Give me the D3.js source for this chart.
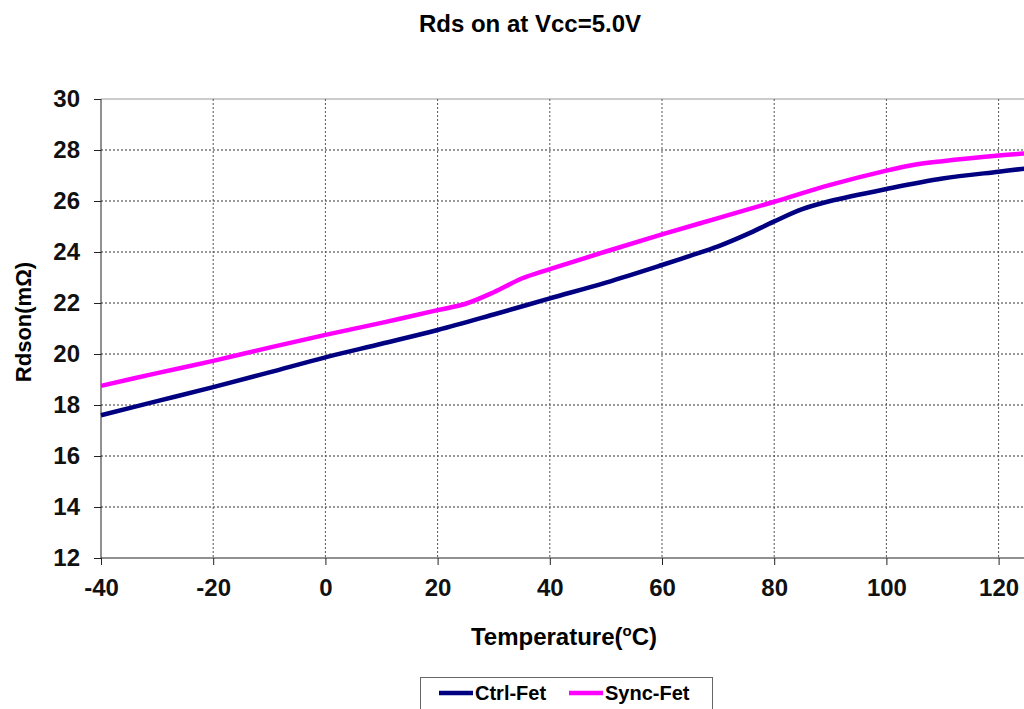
<!DOCTYPE html>
<html>
<head>
<meta charset="utf-8">
<script src="https://cdn.jsdelivr.net/npm/d3@7"></script>
<style>
  html, body { margin: 0; padding: 0; background: #fff; }
  svg { display: block; font-family: "Liberation Sans", Arial, sans-serif; }
</style>
</head>
<body>
<svg id="chart" width="1024" height="709"></svg>
<script>
// ---- data ----
const ctrlTemps  = [-40, -30, -20, -10, 0, 10, 20, 30, 40, 50, 60, 65, 70, 75, 80, 85, 90, 100, 110, 120, 125];
const ctrlValues = [17.6, 18.15, 18.7, 19.28, 19.87, 20.4, 20.94, 21.55, 22.18, 22.8, 23.49, 23.85, 24.22, 24.68, 25.2, 25.68, 26.0, 26.47, 26.88, 27.15, 27.28];
const syncTemps  = [-40, -30, -20, -10, 0, 10, 20, 25, 30, 35, 40, 50, 60, 70, 80, 90, 100, 105, 110, 120, 125];
const syncValues = [18.75, 19.25, 19.73, 20.25, 20.75, 21.22, 21.72, 21.97, 22.42, 22.96, 23.33, 24.02, 24.69, 25.33, 25.97, 26.63, 27.19, 27.42, 27.56, 27.78, 27.87];
const xTicks = [-40, -20, 0, 20, 40, 60, 80, 100, 120];
const yTicks = [12, 14, 16, 18, 20, 22, 24, 26, 28, 30];
const seriesNames = ["Ctrl-Fet", "Sync-Fet"];
const seriesColors = ["#000080", "#FF00FF"];
const titleText = "Rds on at Vcc=5.0V";
const yTitle = "Rdson(mΩ)";

// ---- layout ----
const svg = d3.select("#chart");
const x = d3.scaleLinear().domain([-40, 125]).range([101, 101 + 165 * 5.61]);
const y = d3.scaleLinear().domain([12, 30]).range([558, 99]);
const X0 = 101, X1 = 1030, Y0 = 558, Y1 = 99;

// title
svg.append("text").attr("x", 530).attr("y", 32).attr("text-anchor", "middle")
  .attr("font-size", 24).attr("font-weight", "bold").text(titleText);

// top border
svg.append("line").attr("x1", X0).attr("x2", X1).attr("y1", Y1).attr("y2", Y1)
  .attr("stroke", "#9a9a9a").attr("stroke-width", 1.2);

// grid lines
const grid = svg.append("g");
grid.selectAll(".hg").data(yTicks.filter(d => d !== 12 && d !== 30)).join("line")
  .attr("x1", X0).attr("x2", X1).attr("y1", d => y(d)).attr("y2", d => y(d))
  .attr("stroke", "#333").attr("stroke-width", 1).attr("stroke-dasharray", "2,2");
grid.selectAll(".vg").data(xTicks.filter(d => d !== -40)).join("line")
  .attr("x1", d => x(d)).attr("x2", d => x(d)).attr("y1", Y1).attr("y2", Y0)
  .attr("stroke", "#555").attr("stroke-width", 1).attr("stroke-dasharray", "2,2");

// axes
const fmt = d => String(d);
const yAxis = d3.axisLeft(y).tickValues(yTicks).tickSize(7).tickPadding(14).tickFormat(fmt);
const gy = svg.append("g").attr("transform", `translate(${X0},0)`).call(yAxis);
gy.select(".domain").attr("stroke", "#222").attr("d", `M-0,${Y1}V${Y0}`);
gy.selectAll(".tick line").attr("stroke", "#222");
gy.selectAll(".tick text").attr("font-size", 24).attr("font-weight", "bold")
  .attr("font-family", "Liberation Sans, Arial, sans-serif").attr("fill", "#111");

const xAxis = d3.axisBottom(x).tickValues(xTicks).tickSize(7).tickPadding(14).tickFormat(fmt);
const gx = svg.append("g").attr("transform", `translate(0,${Y0})`).call(xAxis);
gx.select(".domain").attr("stroke", "#222").attr("d", `M${X0},0H${X1}`);
gx.selectAll(".tick line").attr("stroke", "#222");
gx.selectAll(".tick text").attr("font-size", 24).attr("font-weight", "bold")
  .attr("font-family", "Liberation Sans, Arial, sans-serif").attr("fill", "#111");

// axis titles
const xt = svg.append("text").attr("x", 564).attr("y", 645).attr("text-anchor", "middle")
  .attr("font-size", 24).attr("font-weight", "bold");
xt.append("tspan").text("Temperature(");
xt.append("tspan").attr("font-size", 15).attr("dy", -9).text("o");
xt.append("tspan").attr("dy", 9).text("C)");

svg.append("text").attr("transform", "translate(31,322) rotate(-90)").attr("text-anchor", "middle")
  .attr("font-size", 22).attr("font-weight", "bold").text(yTitle);

// lines
const line = d3.line().x(d => x(d[0])).y(d => y(d[1])).curve(d3.curveCatmullRom.alpha(0.5));
const series = [
  ctrlTemps.map((t, i) => [t, ctrlValues[i]]),
  syncTemps.map((t, i) => [t, syncValues[i]])
];
svg.append("g").selectAll("path").data(series).join("path")
  .attr("d", line).attr("fill", "none")
  .attr("stroke", (d, i) => seriesColors[i]).attr("stroke-width", 4.5)
  .attr("stroke-linejoin", "round");

// legend
const lg = svg.append("g");
lg.append("rect").attr("x", 420.5).attr("y", 677.5).attr("width", 292).attr("height", 40)
  .attr("fill", "#fff").attr("stroke", "#666").attr("stroke-width", 1);
const legendX = [439, 569];
seriesNames.forEach((n, i) => {
  lg.append("line").attr("x1", legendX[i]).attr("x2", legendX[i] + 34).attr("y1", 693).attr("y2", 693)
    .attr("stroke", seriesColors[i]).attr("stroke-width", 4.5);
  lg.append("text").attr("x", legendX[i] + 36).attr("y", 700).attr("font-size", 20)
    .attr("font-weight", "bold").text(n);
});
</script>
</body>
</html>
